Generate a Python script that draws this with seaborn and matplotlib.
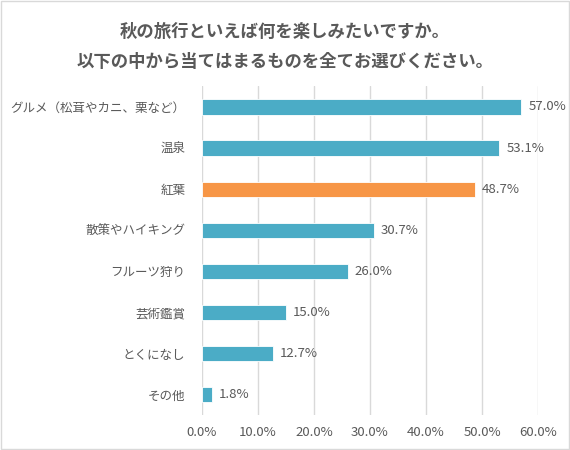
import matplotlib
matplotlib.use("Agg")
import matplotlib.pyplot as plt
import seaborn as sns
import pandas as pd
from matplotlib.patches import Rectangle

# data
categories = ["グルメ（松茸やカニ、栗など）", "温泉", "紅葉", "散策やハイキング",
              "フルーツ狩り", "芸術鑑賞", "とくになし", "その他"]
values = [57.0, 53.1, 48.7, 30.7, 26.0, 15.0, 12.7, 1.8]
highlight = "紅葉"
x_ticks = [0, 10, 20, 30, 40, 50, 60]
title = "秋の旅行といえば何を楽しみたいですか。\n以下の中から当てはまるものを全てお選びください。"

sns.set_theme(style="white")
plt.rcParams['font.family'] = ['Noto Sans CJK JP', 'DejaVu Sans']

teal = "#4BACC6"
orange = "#F79646"
text_col = "#595959"

df = pd.DataFrame({"cat": categories, "val": values})
palette = {c: (orange if c == highlight else teal) for c in categories}

fig = plt.figure(figsize=(5.7, 4.5), dpi=100)
ax = fig.add_axes([0.354, 0.077, 0.59, 0.731])

sns.barplot(data=df, x="val", y="cat", hue="cat", palette=palette,
            legend=False, width=0.37, ax=ax, saturation=1,
            edgecolor="white", linewidth=0.6, zorder=3)

ax.set_xlim(0, 60)
ax.set_xticks(x_ticks)
ax.set_xticklabels([f"{t:.1f}%" for t in x_ticks], color=text_col, fontsize=9.5)
ax.tick_params(axis="y", labelsize=9, labelcolor=text_col, length=0, pad=12)
ax.tick_params(axis="x", length=0, pad=8)
ax.set_xlabel("")
ax.set_ylabel("")
ax.grid(axis="x", color="#D9D9D9", linewidth=1, zorder=0)
for s in ax.spines.values():
    s.set_visible(False)

# value labels to the right of each bar
for i, v in enumerate(values):
    ax.annotate(f"{v:.1f}%", (v, i), xytext=(5, 0), textcoords="offset points",
                va="center", ha="left", fontsize=9.5, color=text_col)

fig.text(0.5, 0.895, title, ha="center", va="center", fontsize=12.5,
         fontweight="bold", color=text_col, linespacing=1.85)

fig.patches.append(Rectangle((0.002, 0.002), 0.996, 0.996, transform=fig.transFigure,
                             fill=False, edgecolor="#D9D9D9", linewidth=1))

fig.savefig("out.png", dpi=100)
